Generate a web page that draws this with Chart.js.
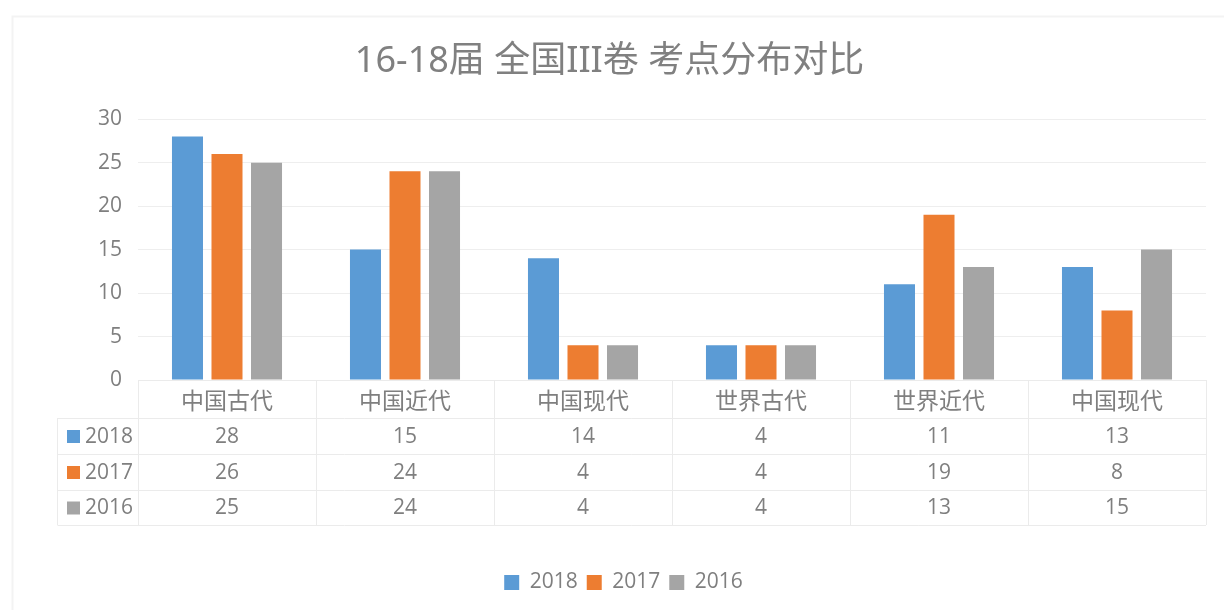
<!DOCTYPE html>
<html>
<head>
<meta charset="utf-8">
<script src="https://cdn.jsdelivr.net/npm/chart.js@4.4.1/dist/chart.umd.min.js"></script>
<style>
  html, body { margin: 0; padding: 0; background: #ffffff; }
  #wrap { width: 1224px; height: 610px; position: relative; }
</style>
</head>
<body>
<div id="wrap"><canvas id="c" width="1224" height="610"></canvas></div>
<script>
const titleText = '16-18届 全国III卷 考点分布对比';
const categories = ['中国古代', '中国近代', '中国现代', '世界古代', '世界近代', '中国现代'];
const seriesNames = ['2018', '2017', '2016'];
const values2018 = [28, 15, 14, 4, 11, 13];
const values2017 = [26, 24, 4, 4, 19, 8];
const values2016 = [25, 24, 4, 4, 13, 15];
const seriesColors = ['#5B9BD5', '#ED7D31', '#A5A5A5'];
const yTicks = [0, 5, 10, 15, 20, 25, 30];

const TEXT = '#7f7f7f';
const LINE = '#ebebeb';
const FONT = '"Open Sans", "Noto Sans CJK SC", sans-serif';
const CJK = '"Noto Sans CJK SC", "Noto Sans", sans-serif';

const seriesValues = [values2018, values2017, values2016];

const framePlugin = {
  id: 'frame',
  beforeDraw(chart) {
    const ctx = chart.ctx;
    ctx.save();
    ctx.fillStyle = '#ffffff';
    ctx.fillRect(0, 0, chart.width, chart.height);
    ctx.strokeStyle = '#f3f3f3';
    ctx.lineWidth = 2;
    ctx.beginPath();
    ctx.moveTo(12.5, chart.height + 5);
    ctx.lineTo(12.5, 16.5);
    ctx.lineTo(chart.width + 5, 16.5);
    ctx.stroke();
    ctx.restore();
  }
};

const legendShift = {
  id: 'legendShift',
  afterLayout(chart) {
    if (chart.legend) {
      chart.legend.left += 14;
      chart.legend.right += 14;
      if (chart.legend.legendHitBoxes) chart.legend.legendHitBoxes.forEach(b => { b.left += 14; });
    }
  }
};

const tablePlugin = {
  id: 'dataTable',
  afterDraw(chart) {
    const ctx = chart.ctx;
    const area = chart.chartArea;
    const x = chart.scales.x;
    const top = area.bottom;
    const rows = [top + 38, top + 74, top + 110, top + 145];
    const leftX = 57.5;
    const n = categories.length;
    const half = (x.getPixelForValue(1) - x.getPixelForValue(0)) / 2;
    ctx.save();
    ctx.strokeStyle = LINE;
    ctx.lineWidth = 1;
    ctx.beginPath();
    ctx.moveTo(area.left, Math.round(top) + 0.5);
    ctx.lineTo(area.right, Math.round(top) + 0.5);
    rows.forEach(r => {
      ctx.moveTo(leftX, Math.round(r) + 0.5);
      ctx.lineTo(area.right, Math.round(r) + 0.5);
    });
    for (let i = 0; i <= n; i++) {
      const px = Math.round(x.getPixelForValue(i) - half) + 0.5;
      ctx.moveTo(px, top);
      ctx.lineTo(px, rows[3]);
    }
    ctx.moveTo(leftX, rows[0]);
    ctx.lineTo(leftX, rows[3]);
    ctx.stroke();

    ctx.fillStyle = TEXT;
    ctx.textAlign = 'center';
    ctx.textBaseline = 'middle';
    ctx.font = '23px ' + CJK;
    categories.forEach((c, i) => {
      ctx.fillText(c, x.getPixelForValue(i), top + 20);
    });
    ctx.font = '21px ' + FONT;
    seriesValues.forEach((vals, s) => {
      const cy = (rows[s] + rows[s + 1]) / 2;
      vals.forEach((v, i) => {
        ctx.fillStyle = TEXT;
        ctx.fillText(String(v), x.getPixelForValue(i), cy + 1);
      });
      ctx.fillStyle = seriesColors[s];
      ctx.fillRect(67, cy - 6, 13, 13);
      ctx.fillStyle = TEXT;
      ctx.textAlign = 'left';
      ctx.fillText(seriesNames[s], 85, cy + 1);
      ctx.textAlign = 'center';
    });
    ctx.restore();
  }
};

new Chart(document.getElementById('c'), {
  type: 'bar',
  data: {
    labels: categories,
    datasets: seriesNames.map((name, s) => ({
      label: name,
      data: seriesValues[s],
      backgroundColor: seriesColors[s],
      borderWidth: 0,
      barPercentage: 0.785,
      categoryPercentage: 0.666
    }))
  },
  options: {
    responsive: false,
    animation: false,
    devicePixelRatio: 1,
    layout: { padding: { left: 13, right: 18, top: 16, bottom: 7 } },
    plugins: {
      title: {
        display: true,
        text: titleText,
        color: '#808080',
        font: { family: '"Noto Sans", "Noto Sans CJK SC", sans-serif', size: 36, weight: 'normal' },
        padding: { top: 24, bottom: 36 }
      },
      legend: {
        display: true,
        position: 'bottom',
        labels: {
          color: TEXT,
          font: { family: FONT, size: 21 },
          boxWidth: 15,
          boxHeight: 15,
          padding: 9
        }
      },
      tooltip: { enabled: false }
    },
    scales: {
      x: {
        grid: { display: false, drawTicks: false },
        border: { display: false },
        ticks: { display: false },
        afterFit(scale) { scale.height = 183; }
      },
      y: {
        min: 0,
        max: 30,
        afterBuildTicks(scale) { scale.ticks = yTicks.map(v => ({ value: v })); },
        grid: { color: '#eeeeee', drawTicks: false },
        border: { display: false },
        ticks: {
          color: TEXT,
          font: { family: FONT, size: 21 },
          padding: 16
        },
        afterFit(scale) { scale.width = 125; }
      }
    }
  },
  plugins: [framePlugin, legendShift, tablePlugin]
});
</script>
</body>
</html>
